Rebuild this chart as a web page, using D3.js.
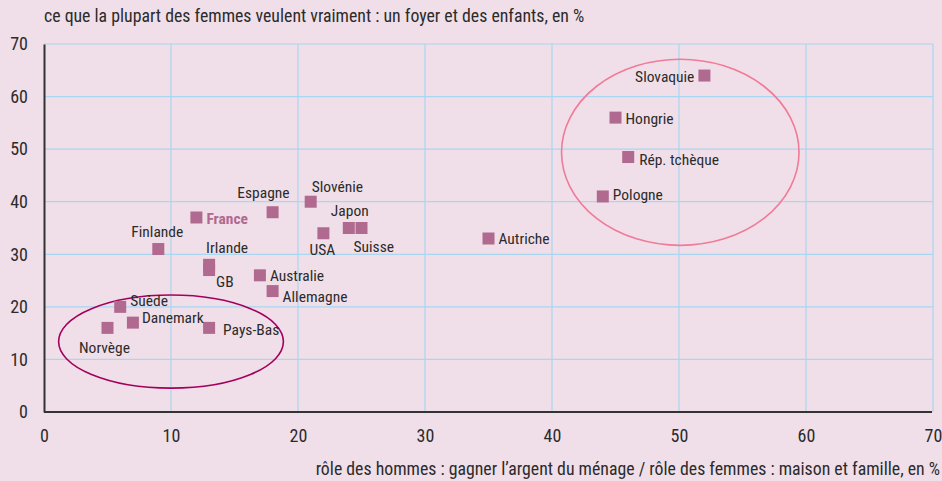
<!DOCTYPE html>
<html lang="fr">
<head>
<meta charset="UTF-8">
<title>Rôles des hommes et des femmes</title>
<style>
    body { margin: 0; background: #f0dfe9; }
    svg { display: block; }
    text { font-family: "Liberation Sans Narrow", "Arial Narrow", "Roboto Condensed", "Liberation Sans", sans-serif; fill: #2b2b2b; }
</style>
</head>
<body>
<svg width="942" height="481"></svg>
<script src="https://d3js.org/d3.v7.min.js"></script>
<script>
    // pays, x = rôle des hommes : gagner l'argent, y = femmes : foyer et enfants
    var countries = ["Slovaquie", "Hongrie", "Rép. tchèque", "Pologne", "Autriche", "Japon", "Suisse", "USA",
        "Slovénie", "Espagne", "France", "Finlande", "Irlande", "GB", "Australie", "Allemagne",
        "Suède", "Danemark", "Norvège", "Pays-Bas"];
    var xValues = [52, 45, 46, 44, 35, 24, 25, 22, 21, 18, 12, 9, 13, 13, 17, 18, 6, 7, 5, 13];
    var yValues = [64, 56, 48.5, 41, 33, 35, 35, 34, 40, 38, 37, 31, 28, 27, 26, 23, 20, 17, 16, 16];

    var xTicks = [0, 10, 20, 30, 40, 50, 60, 70];
    var yTicks = [0, 10, 20, 30, 40, 50, 60, 70];

    // groupes entourés : centre et demi-axes en unités du graphique
    var groups = [
        { cx: 10, cy: 13.4, rx: 8.85, ry: 8.85, color: "#a3005e" },
        { cx: 50.1, cy: 49.4, rx: 9.35, ry: 17.7, color: "#f07a98" }
    ];

    var titleY = "ce que la plupart des femmes veulent vraiment : un foyer et des enfants, en %";
    var titleX = "rôle des hommes : gagner l’argent du ménage / rôle des femmes : maison et famille, en %";

    // placement des étiquettes (décalage en pixels par rapport au point)
    var labelPos = {
        "Slovaquie": [-10, 1, "end"], "Hongrie": [10, 1, "start"], "Rép. tchèque": [11, 3, "start"],
        "Pologne": [10, -2, "start"], "Autriche": [10, 0, "start"], "Japon": [1, -17, "middle"],
        "Suisse": [-8, 19, "start"], "USA": [-1, 16, "middle"], "Slovénie": [1, -15, "start"],
        "Espagne": [17, -20, "end"], "France": [10, 1, "start"], "Finlande": [-1, -17, "middle"],
        "Irlande": [-3, -17, "start"], "GB": [7, 12, "start"], "Australie": [10, 0, "start"],
        "Allemagne": [10, 5, "start"], "Suède": [10, -6, "start"], "Danemark": [9, -5, "start"],
        "Norvège": [-3, 20, "middle"], "Pays-Bas": [14, 2, "start"]
    };

    var svg = d3.select("svg");
    var margin = { left: 44, right: 9, top: 44, bottom: 69 };
    var width = 942, height = 481;

    var x = d3.scaleLinear().domain([0, 70]).range([margin.left, width - margin.right]);
    var y = d3.scaleLinear().domain([0, 70]).range([height - margin.bottom, margin.top]);

    svg.append("rect").attr("width", width).attr("height", height).attr("fill", "#f0dfe9");

    // grille
    svg.append("g").selectAll("line").data(xTicks.slice(1)).enter().append("line")
        .attr("x1", function (d) { return x(d); }).attr("x2", function (d) { return x(d); })
        .attr("y1", y(0)).attr("y2", y(70))
        .attr("stroke", "#a9d6f0").attr("stroke-width", 1.2);
    svg.append("g").selectAll("line").data(yTicks.slice(1)).enter().append("line")
        .attr("x1", x(0)).attr("x2", x(70))
        .attr("y1", function (d) { return y(d); }).attr("y2", function (d) { return y(d); })
        .attr("stroke", "#a9d6f0").attr("stroke-width", 1.2);

    // axes
    var xAxis = svg.append("g").attr("transform", "translate(0," + y(0) + ")")
        .call(d3.axisBottom(x).tickValues(xTicks).tickSize(0).tickPadding(17));
    var yAxis = svg.append("g").attr("transform", "translate(" + x(0) + ",0)")
        .call(d3.axisLeft(y).tickValues(yTicks).tickSize(0).tickPadding(16));
    [xAxis, yAxis].forEach(function (a) {
        a.select(".domain").attr("stroke", "#333").attr("stroke-width", 2);
        a.selectAll("text").attr("font-size", 18).attr("fill", "#2b2b2b");
    });
    xAxis.select(".domain").attr("d", "M" + x(0) + ",0H" + (x(70) - 1));

    // ellipses
    svg.append("g").selectAll("ellipse").data(groups).enter().append("ellipse")
        .attr("cx", function (d) { return x(d.cx); })
        .attr("cy", function (d) { return y(d.cy); })
        .attr("rx", function (d) { return x(d.rx) - x(0); })
        .attr("ry", function (d) { return y(0) - y(d.ry); })
        .attr("fill", "none")
        .attr("stroke", function (d) { return d.color; })
        .attr("stroke-width", 1.6);

    var pts = countries.map(function (c, i) { return { name: c, x: xValues[i], y: yValues[i] }; });

    // points
    svg.append("g").selectAll("rect").data(pts).enter().append("rect")
        .attr("x", function (d) { return x(d.x) - 6; })
        .attr("y", function (d) { return y(d.y) - 6; })
        .attr("width", 12).attr("height", 12)
        .attr("fill", "#b06a8f");

    // étiquettes
    svg.append("g").selectAll("text").data(pts).enter().append("text")
        .attr("x", function (d) { return x(d.x) + labelPos[d.name][0]; })
        .attr("y", function (d) { return y(d.y) + labelPos[d.name][1]; })
        .attr("dy", "0.35em")
        .attr("text-anchor", function (d) { return labelPos[d.name][2]; })
        .attr("font-size", 15.5)
        .attr("font-weight", function (d) { return d.name === "France" ? "bold" : null; })
        .style("fill", function (d) { return d.name === "France" ? "#b06a8f" : null; })
        .text(function (d) { return d.name; });

    // titres des axes
    svg.append("text").attr("x", 44).attr("y", 22).attr("font-size", 17.8).text(titleY);
    svg.append("text").attr("x", 940).attr("y", 475).attr("text-anchor", "end")
        .attr("font-size", 17.8).text(titleX);
</script>
</body>
</html>
